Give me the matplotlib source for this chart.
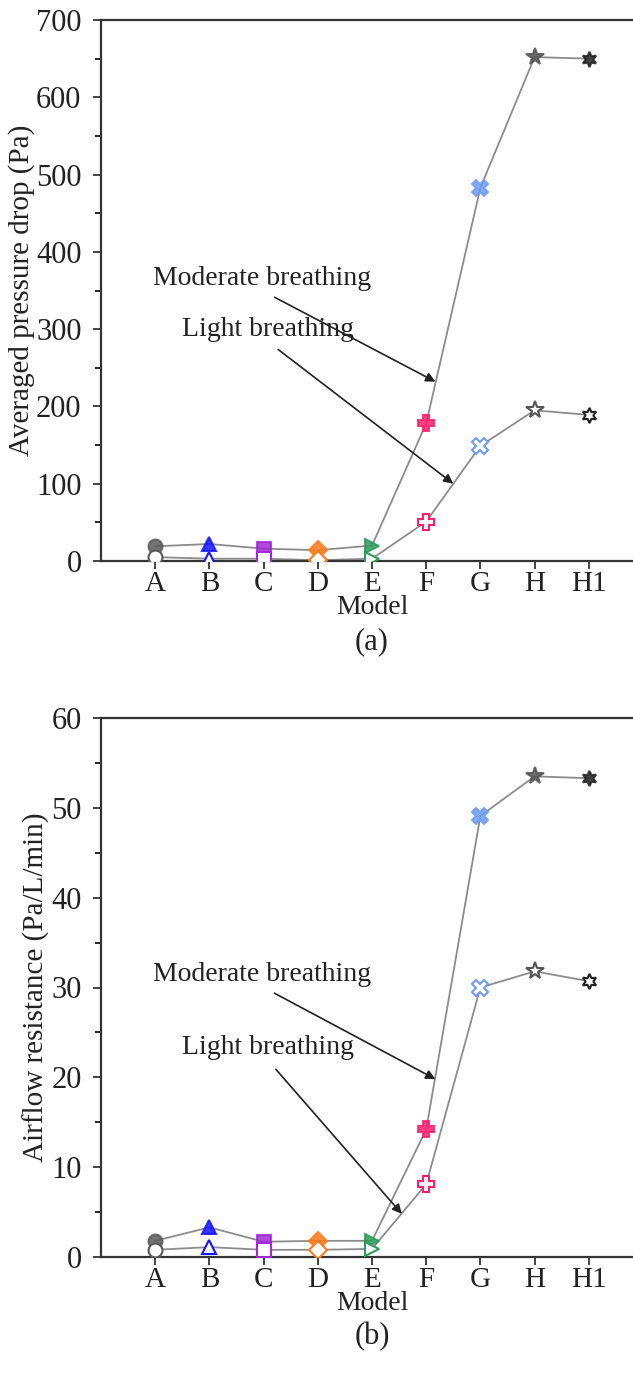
import matplotlib
matplotlib.use("Agg")
import matplotlib.pyplot as plt
from matplotlib.ticker import MultipleLocator

plt.rcParams['font.family'] = ['Liberation Serif', 'DejaVu Serif']

models = ["A", "B", "C", "D", "E", "F", "G", "H", "H1"]
colors = ["#5a5a5a", "#1414ff", "#a328d6", "#ff7a1a", "#2e9a5c",
          "#ff1f6e", "#6f9cf0", "#555555", "#222222"]
markers = ["o", "^", "s", "D", ">", "P", "X", "*", (6, 1, 0)]
sizes = [10, 10, 10, 9, 10, 11, 11, 13, 11]

# Averaged pressure drop (Pa)
dp_moderate = [19, 22, 16, 14, 20, 178, 483, 652, 650]
dp_light = [5, 3, 3, 1, 3, 51, 149, 195, 189]

# Airflow resistance (Pa/L/min)
res_moderate = [1.8, 3.3, 1.7, 1.8, 1.8, 14.2, 49.1, 53.5, 53.3]
res_light = [0.8, 1.1, 0.8, 0.8, 0.9, 8.1, 30.0, 31.8, 30.7]

W, H = 633, 1390
fig = plt.figure(figsize=(W / 100, H / 100), dpi=100)

def axes_box(left, top, right, bottom):
    return [left / W, 1 - bottom / H, (right - left) / W, (bottom - top) / H]

ax1 = fig.add_axes(axes_box(101, 20, 643, 561))
ax2 = fig.add_axes(axes_box(101, 718, 643, 1257))

def draw_panel(ax, moderate, light, ymax, major, minor, ylabel):
    x = list(range(len(models)))
    line_kw = dict(color="#8c8c8c", lw=1.3, zorder=2)
    ax.plot(x, moderate, **line_kw)
    ax.plot(x, light, **line_kw)
    for i in x:
        ax.plot(i, moderate[i], marker=markers[i], ms=sizes[i], mec=colors[i],
                mfc=colors[i], alpha=0.85, mew=1.5, ls="none", zorder=3)
        ax.plot(i, light[i], marker=markers[i], ms=sizes[i], mec=colors[i],
                mfc="white", mew=1.5, ls="none", zorder=3)
    ax.set_xlim(-1, 9)
    ax.set_ylim(0, ymax)
    ax.set_xticks(x)
    ax.set_xticklabels(models)
    ax.yaxis.set_major_locator(MultipleLocator(major))
    ax.yaxis.set_minor_locator(MultipleLocator(minor))
    ax.tick_params(axis="both", direction="out", labelsize=22, width=1.2,
                   length=6, colors="#222222", labelcolor="#222222")
    ax.tick_params(axis="y", which="minor", direction="out", length=4, width=1.2)
    ax.tick_params(axis="x", pad=1, labelsize=21)
    ax.tick_params(axis="y", which="major", pad=8)
    for s in ax.spines.values():
        s.set_linewidth(1.6)
        s.set_color("#333333")
    ax.set_xlabel("Model", fontsize=20, labelpad=-1, color="#222222")
    ax.set_ylabel(ylabel, fontsize=21, labelpad=1, color="#222222")

draw_panel(ax1, dp_moderate, dp_light, 700, 100, 50, "Averaged pressure drop (Pa)")
draw_panel(ax2, res_moderate, res_light, 60, 10, 5, "Airflow resistance (Pa/L/min)")

arrow = dict(arrowstyle="-|>", color="#222222", lw=1.2, mutation_scale=14,
             shrinkA=6, shrinkB=0, relpos=(0.5, 0.0))
ann_kw = dict(fontsize=20, ha="center", va="center", color="#222222",
              arrowprops=arrow)

ax1.annotate("Moderate breathing", xy=(5.17, 232), xytext=(1.97, 366), **ann_kw)
ax1.annotate("Light breathing", xy=(5.5, 100), xytext=(2.08, 300), **ann_kw)
ax2.annotate("Moderate breathing", xy=(5.17, 19.8), xytext=(1.97, 31.5), **ann_kw)
ax2.annotate("Light breathing", xy=(4.55, 4.8), xytext=(2.08, 23.3), **ann_kw)

fig.text(372 / W, 1 - 642 / H, "(a)", fontsize=22, ha="center", va="center",
         color="#222222")
fig.text(372 / W, 1 - 1337 / H, "(b)", fontsize=22, ha="center", va="center",
         color="#222222")

fig.savefig("out.png", dpi=100)
